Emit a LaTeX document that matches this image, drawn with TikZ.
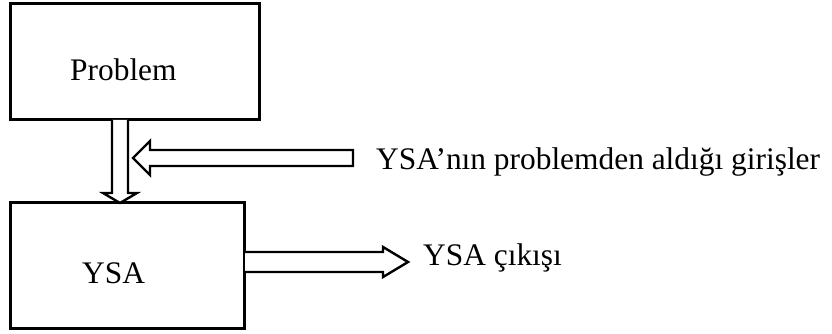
\documentclass[tikz,border=0pt]{standalone}
\usepackage{fontspec}
\setmainfont{Liberation Serif}
\begin{document}
\begin{tikzpicture}[x=1pt,y=-1pt,
  box/.style={draw,line width=3pt,inner sep=0pt},
  blockarrow/.style={draw,line width=2.4pt,fill=white,line join=miter},
  lbl/.style={inner sep=0pt,anchor=base west,font=\fontsize{31.4}{36}\selectfont}]
\useasboundingbox (0,0) rectangle (832,334);
% boxes
\draw[box] (10,4) rectangle (259,120);
\draw[box] (10,202) rectangle (244,328);
\node[lbl] (tprob) at (70,81) {Problem};
\node[lbl] (tysa) at (82,283) {YSA};
% down arrow
\draw[blockarrow] (112,120) -- (112,193) -- (103,193) -- (120,203) -- (137,193) -- (128,193) -- (128,120);
% left arrow
\draw[blockarrow] (353,150) -- (150,150) -- (150,141) -- (133,158) -- (150,175) -- (150,166) -- (353,166) -- cycle;
% right arrow
\draw[blockarrow] (245,252) -- (383,252) -- (383,247) -- (408,262) -- (383,277) -- (383,272) -- (245,272);
\node[lbl] (tin) at (376,169) {YSA’nın problemden aldığı girişler};
\node[lbl] (tout) at (423,265) {YSA çıkışı};
\end{tikzpicture}
\end{document}
